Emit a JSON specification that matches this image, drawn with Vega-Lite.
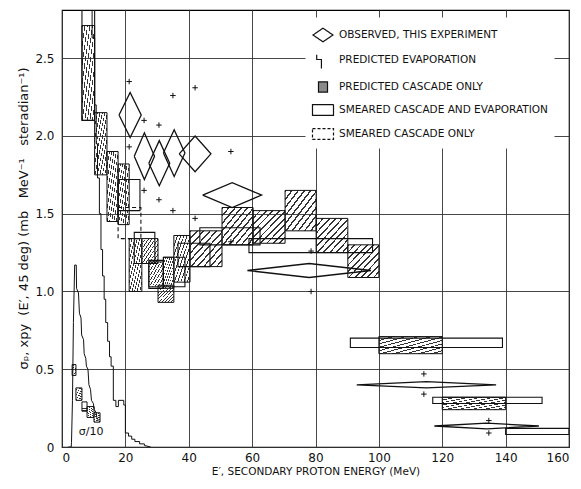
{
  "$schema": "https://vega.github.io/schema/vega-lite/v6.json",
  "width": 507,
  "height": 437,
  "autosize": {"type": "none"},
  "padding": {"left": 62, "top": 10, "right": 12, "bottom": 42},
  "background": "white",
  "config": {
    "view": {"stroke": "#000", "strokeWidth": 1.2},
    "font": "DejaVu Sans"
  },
  "datasets": {
    "hatch": [
      {"E": 6.3, "E2": 10.3, "s": 2.10, "s2": 2.71},
      {"E": 10.3, "E2": 14.2, "s": 1.75, "s2": 2.15},
      {"E": 14.2, "E2": 17.7, "s": 1.45, "s2": 1.90},
      {"E": 17.7, "E2": 21.2, "s": 1.43, "s2": 1.82},
      {"E": 21.2, "E2": 25.2, "s": 1.00, "s2": 1.34},
      {"E": 25.2, "E2": 30.3, "s": 1.18, "s2": 1.34},
      {"E": 27.4, "E2": 32.0, "s": 1.03, "s2": 1.19},
      {"E": 32.0, "E2": 35.3, "s": 1.02, "s2": 1.22},
      {"E": 30.3, "E2": 35.3, "s": 0.93, "s2": 1.04},
      {"E": 35.3, "E2": 40.4, "s": 1.06, "s2": 1.36},
      {"E": 40.4, "E2": 50.5, "s": 1.16, "s2": 1.39},
      {"E": 50.5, "E2": 60.3, "s": 1.30, "s2": 1.54},
      {"E": 60.3, "E2": 70.4, "s": 1.31, "s2": 1.52},
      {"E": 70.4, "E2": 80.2, "s": 1.39, "s2": 1.65},
      {"E": 80.2, "E2": 90.2, "s": 1.25, "s2": 1.47},
      {"E": 90.2, "E2": 100, "s": 1.09, "s2": 1.30},
      {"E": 100, "E2": 120, "s": 0.60, "s2": 0.71},
      {"E": 120, "E2": 140, "s": 0.24, "s2": 0.32},
      {"E": 3.2, "E2": 4.4, "s": 0.46, "s2": 0.53},
      {"E": 4.4, "E2": 6.3, "s": 0.30, "s2": 0.38},
      {"E": 6.3, "E2": 7.9, "s": 0.23, "s2": 0.29},
      {"E": 7.9, "E2": 10.1, "s": 0.19, "s2": 0.26},
      {"E": 10.1, "E2": 12.0, "s": 0.16, "s2": 0.22}
    ],
    "smeared": [
      {"E": 6.3, "E2": 10.3, "s": 2.10, "s2": 2.95},
      {"E": 17.7, "E2": 24.6, "s": 1.52, "s2": 1.72},
      {"E": 22.8, "E2": 29.3, "s": 1.18, "s2": 1.38},
      {"E": 27.4, "E2": 32.0, "s": 1.02, "s2": 1.20},
      {"E": 32.0, "E2": 38.8, "s": 1.03, "s2": 1.22},
      {"E": 36.6, "E2": 46.7, "s": 1.16, "s2": 1.31},
      {"E": 43.5, "E2": 62.5, "s": 1.30, "s2": 1.41},
      {"E": 59.0, "E2": 98.0, "s": 1.25, "s2": 1.34},
      {"E": 91.0, "E2": 139.0, "s": 0.64, "s2": 0.70},
      {"E": 117.0, "E2": 151.5, "s": 0.28, "s2": 0.32},
      {"E": 140.0, "E2": 160.0, "s": 0.08, "s2": 0.12}
    ],
    "cascadeOnly": [
      {"E": 17.7, "E2": 24.9, "s": 1.34, "s2": 1.54}
    ],
    "evap": [
      {"curve": "sigma", "i": 1, "E": 9.5, "s": 2.95},
      {"curve": "sigma", "i": 2, "E": 9.5, "s": 2.63},
      {"curve": "sigma", "i": 3, "E": 10.3, "s": 2.63},
      {"curve": "sigma", "i": 4, "E": 10.3, "s": 2.2},
      {"curve": "sigma", "i": 5, "E": 10.8, "s": 2.2},
      {"curve": "sigma", "i": 6, "E": 10.8, "s": 1.95},
      {"curve": "sigma", "i": 7, "E": 11.2, "s": 1.95},
      {"curve": "sigma", "i": 8, "E": 11.2, "s": 1.73},
      {"curve": "sigma", "i": 9, "E": 11.8, "s": 1.73},
      {"curve": "sigma", "i": 10, "E": 11.8, "s": 1.5},
      {"curve": "sigma", "i": 11, "E": 12.3, "s": 1.5},
      {"curve": "sigma", "i": 12, "E": 12.3, "s": 1.27},
      {"curve": "sigma", "i": 13, "E": 12.8, "s": 1.27},
      {"curve": "sigma", "i": 14, "E": 12.8, "s": 1.1},
      {"curve": "sigma", "i": 15, "E": 13.3, "s": 1.1},
      {"curve": "sigma", "i": 16, "E": 13.3, "s": 0.95},
      {"curve": "sigma", "i": 17, "E": 13.8, "s": 0.95},
      {"curve": "sigma", "i": 18, "E": 13.8, "s": 0.8},
      {"curve": "sigma", "i": 19, "E": 14.4, "s": 0.8},
      {"curve": "sigma", "i": 20, "E": 14.4, "s": 0.68},
      {"curve": "sigma", "i": 21, "E": 15.0, "s": 0.68},
      {"curve": "sigma", "i": 22, "E": 15.0, "s": 0.58},
      {"curve": "sigma", "i": 23, "E": 15.5, "s": 0.58},
      {"curve": "sigma", "i": 24, "E": 15.5, "s": 0.52},
      {"curve": "sigma", "i": 25, "E": 16.2, "s": 0.52},
      {"curve": "sigma", "i": 26, "E": 16.2, "s": 0.30},
      {"curve": "sigma", "i": 27, "E": 17.0, "s": 0.30},
      {"curve": "sigma", "i": 28, "E": 17.0, "s": 0.26},
      {"curve": "sigma", "i": 29, "E": 17.8, "s": 0.26},
      {"curve": "sigma", "i": 30, "E": 17.8, "s": 0.30},
      {"curve": "sigma", "i": 31, "E": 19.5, "s": 0.30},
      {"curve": "sigma", "i": 32, "E": 19.5, "s": 0.27},
      {"curve": "sigma", "i": 33, "E": 20.0, "s": 0.27},
      {"curve": "sigma", "i": 34, "E": 20.0, "s": 0.09},
      {"curve": "sigma", "i": 35, "E": 21.0, "s": 0.09},
      {"curve": "sigma", "i": 36, "E": 21.0, "s": 0.07},
      {"curve": "sigma", "i": 37, "E": 22.0, "s": 0.07},
      {"curve": "sigma", "i": 38, "E": 22.0, "s": 0.05},
      {"curve": "sigma", "i": 39, "E": 23.0, "s": 0.05},
      {"curve": "sigma", "i": 40, "E": 23.0, "s": 0.035},
      {"curve": "sigma", "i": 41, "E": 24.5, "s": 0.035},
      {"curve": "sigma", "i": 42, "E": 24.5, "s": 0.02},
      {"curve": "sigma", "i": 43, "E": 26.0, "s": 0.02},
      {"curve": "sigma", "i": 44, "E": 26.0, "s": 0.01},
      {"curve": "sigma", "i": 45, "E": 28.0, "s": 0.0},
      {"curve": "tenth", "i": 1, "E": 2.0, "s": 0.0},
      {"curve": "tenth", "i": 2, "E": 2.9, "s": 0.0},
      {"curve": "tenth", "i": 3, "E": 3.0, "s": 0.03},
      {"curve": "tenth", "i": 4, "E": 3.3, "s": 0.3},
      {"curve": "tenth", "i": 5, "E": 3.6, "s": 0.8},
      {"curve": "tenth", "i": 6, "E": 4.0, "s": 1.17},
      {"curve": "tenth", "i": 7, "E": 4.5, "s": 1.17},
      {"curve": "tenth", "i": 8, "E": 4.6, "s": 1.02},
      {"curve": "tenth", "i": 9, "E": 5.2, "s": 0.99},
      {"curve": "tenth", "i": 10, "E": 5.5, "s": 0.86},
      {"curve": "tenth", "i": 11, "E": 6.0, "s": 0.83},
      {"curve": "tenth", "i": 12, "E": 6.2, "s": 0.72},
      {"curve": "tenth", "i": 13, "E": 6.8, "s": 0.69},
      {"curve": "tenth", "i": 14, "E": 7.0, "s": 0.6},
      {"curve": "tenth", "i": 15, "E": 7.5, "s": 0.57},
      {"curve": "tenth", "i": 16, "E": 7.7, "s": 0.52},
      {"curve": "tenth", "i": 17, "E": 8.2, "s": 0.5},
      {"curve": "tenth", "i": 18, "E": 8.5, "s": 0.4},
      {"curve": "tenth", "i": 19, "E": 9.0, "s": 0.37},
      {"curve": "tenth", "i": 20, "E": 9.3, "s": 0.3},
      {"curve": "tenth", "i": 21, "E": 9.9, "s": 0.28},
      {"curve": "tenth", "i": 22, "E": 10.2, "s": 0.24},
      {"curve": "tenth", "i": 23, "E": 10.8, "s": 0.22},
      {"curve": "tenth", "i": 24, "E": 11.0, "s": 0.19},
      {"curve": "tenth", "i": 25, "E": 11.6, "s": 0.17}
    ],
    "diamonds": [
      {"id": 1, "i": 1, "E": 18.0, "s": 2.135}, {"id": 1, "i": 2, "E": 21.5, "s": 2.28}, {"id": 1, "i": 3, "E": 25.0, "s": 2.135}, {"id": 1, "i": 4, "E": 21.5, "s": 1.99}, {"id": 1, "i": 5, "E": 18.0, "s": 2.135},
      {"id": 2, "i": 1, "E": 22.8, "s": 1.87}, {"id": 2, "i": 2, "E": 26.0, "s": 2.02}, {"id": 2, "i": 3, "E": 29.2, "s": 1.87}, {"id": 2, "i": 4, "E": 26.0, "s": 1.72}, {"id": 2, "i": 5, "E": 22.8, "s": 1.87},
      {"id": 3, "i": 1, "E": 27.4, "s": 1.825}, {"id": 3, "i": 2, "E": 30.7, "s": 1.97}, {"id": 3, "i": 3, "E": 34.0, "s": 1.825}, {"id": 3, "i": 4, "E": 30.7, "s": 1.68}, {"id": 3, "i": 5, "E": 27.4, "s": 1.825},
      {"id": 4, "i": 1, "E": 32.0, "s": 1.89}, {"id": 4, "i": 2, "E": 35.4, "s": 2.04}, {"id": 4, "i": 3, "E": 38.8, "s": 1.89}, {"id": 4, "i": 4, "E": 35.4, "s": 1.74}, {"id": 4, "i": 5, "E": 32.0, "s": 1.89},
      {"id": 5, "i": 1, "E": 37.0, "s": 1.885}, {"id": 5, "i": 2, "E": 42.0, "s": 2.0}, {"id": 5, "i": 3, "E": 47.0, "s": 1.885}, {"id": 5, "i": 4, "E": 42.0, "s": 1.77}, {"id": 5, "i": 5, "E": 37.0, "s": 1.885},
      {"id": 6, "i": 1, "E": 44.4, "s": 1.62}, {"id": 6, "i": 2, "E": 53.7, "s": 1.70}, {"id": 6, "i": 3, "E": 63.0, "s": 1.62}, {"id": 6, "i": 4, "E": 53.7, "s": 1.54}, {"id": 6, "i": 5, "E": 44.4, "s": 1.62},
      {"id": 7, "i": 1, "E": 58.5, "s": 1.135}, {"id": 7, "i": 2, "E": 78.0, "s": 1.18}, {"id": 7, "i": 3, "E": 97.5, "s": 1.135}, {"id": 7, "i": 4, "E": 78.0, "s": 1.09}, {"id": 7, "i": 5, "E": 58.5, "s": 1.135},
      {"id": 8, "i": 1, "E": 93.0, "s": 0.40}, {"id": 8, "i": 2, "E": 115.0, "s": 0.42}, {"id": 8, "i": 3, "E": 137.0, "s": 0.40}, {"id": 8, "i": 4, "E": 115.0, "s": 0.38}, {"id": 8, "i": 5, "E": 93.0, "s": 0.40},
      {"id": 9, "i": 1, "E": 117.5, "s": 0.135}, {"id": 9, "i": 2, "E": 134.0, "s": 0.153}, {"id": 9, "i": 3, "E": 150.5, "s": 0.135}, {"id": 9, "i": 4, "E": 134.0, "s": 0.117}, {"id": 9, "i": 5, "E": 117.5, "s": 0.135}
    ],
    "plus": [
      {"E": 21.2, "s": 2.35}, {"E": 21.2, "s": 1.93},
      {"E": 25.9, "s": 2.10}, {"E": 25.9, "s": 1.65},
      {"E": 30.6, "s": 2.07}, {"E": 30.6, "s": 1.59},
      {"E": 35.0, "s": 2.26}, {"E": 35.0, "s": 1.52},
      {"E": 42.0, "s": 2.31}, {"E": 42.0, "s": 1.47},
      {"E": 53.3, "s": 1.90}, {"E": 53.3, "s": 1.32},
      {"E": 78.6, "s": 1.26}, {"E": 78.6, "s": 1.00},
      {"E": 114.2, "s": 0.47}, {"E": 114.2, "s": 0.34},
      {"E": 134.7, "s": 0.17}, {"E": 134.7, "s": 0.09}
    ],
    "notes": [
      {"E": 9.2, "s": 0.095, "label": "σ/10"}
    ]
  },
  "encoding": {
    "x": {
      "field": "E", "type": "quantitative",
      "scale": {"domain": [0, 160], "nice": false, "zero": false},
      "axis": {
        "values": [0, 20, 40, 60, 80, 100, 120, 140, 160],
        "ticks": false, "domain": false,
        "grid": true, "gridColor": "#333", "gridWidth": 0.9, "gridOpacity": 1,
        "labelFont": "DejaVu Sans", "labelFontSize": 12, "labelColor": "#111", "labelPadding": 5,
        "title": "E′, SECONDARY PROTON ENERGY (MeV)",
        "titleFont": "DejaVu Sans", "titleFontSize": 10.5, "titleFontWeight": "normal", "titleColor": "#111", "titlePadding": 3
      }
    },
    "y": {
      "field": "s", "type": "quantitative",
      "scale": {"domain": [0, 2.81], "nice": false, "zero": false},
      "axis": {
        "values": [0, 0.5, 1, 1.5, 2, 2.5],
        "labelExpr": "datum.value == 0 ? '0' : format(datum.value, '.1f')",
        "ticks": false, "domain": false,
        "grid": true, "gridColor": "#333", "gridWidth": 0.9, "gridOpacity": 1,
        "labelFont": "DejaVu Sans", "labelFontSize": 12, "labelColor": "#111", "labelPadding": 8,
        "title": "σₚ, xpy\u00a0 (E′, 45 deg) (mb\u00a0\u00a0 MeV⁻¹\u00a0\u00a0 steradian⁻¹)",
        "titleFont": "DejaVu Sans", "titleFontSize": 13, "titleFontWeight": "normal", "titleColor": "#111",
        "titleX": -39, "titleY": 208, "titleAngle": -90, "titleAlign": "center", "titleBaseline": "middle"
      }
    }
  },
  "layer": [
    {
      "data": {"name": "hatch"},
      "mark": {
        "type": "rect", "stroke": "#111", "strokeWidth": 1,
        "fill": {
          "gradient": "linear", "x1": 0, "y1": 0, "x2": 1, "y2": 1,
          "stops": [
            {"offset": 0, "color": "#333"}, {"offset": 0.028, "color": "#333"}, {"offset": 0.028, "color": "rgba(255,255,255,0)"}, {"offset": 0.1, "color": "rgba(255,255,255,0)"},
            {"offset": 0.1, "color": "#333"}, {"offset": 0.128, "color": "#333"}, {"offset": 0.128, "color": "rgba(255,255,255,0)"}, {"offset": 0.2, "color": "rgba(255,255,255,0)"},
            {"offset": 0.2, "color": "#333"}, {"offset": 0.228, "color": "#333"}, {"offset": 0.228, "color": "rgba(255,255,255,0)"}, {"offset": 0.3, "color": "rgba(255,255,255,0)"},
            {"offset": 0.3, "color": "#333"}, {"offset": 0.328, "color": "#333"}, {"offset": 0.328, "color": "rgba(255,255,255,0)"}, {"offset": 0.4, "color": "rgba(255,255,255,0)"},
            {"offset": 0.4, "color": "#333"}, {"offset": 0.428, "color": "#333"}, {"offset": 0.428, "color": "rgba(255,255,255,0)"}, {"offset": 0.5, "color": "rgba(255,255,255,0)"},
            {"offset": 0.5, "color": "#333"}, {"offset": 0.528, "color": "#333"}, {"offset": 0.528, "color": "rgba(255,255,255,0)"}, {"offset": 0.6, "color": "rgba(255,255,255,0)"},
            {"offset": 0.6, "color": "#333"}, {"offset": 0.628, "color": "#333"}, {"offset": 0.628, "color": "rgba(255,255,255,0)"}, {"offset": 0.7, "color": "rgba(255,255,255,0)"},
            {"offset": 0.7, "color": "#333"}, {"offset": 0.728, "color": "#333"}, {"offset": 0.728, "color": "rgba(255,255,255,0)"}, {"offset": 0.8, "color": "rgba(255,255,255,0)"},
            {"offset": 0.8, "color": "#333"}, {"offset": 0.828, "color": "#333"}, {"offset": 0.828, "color": "rgba(255,255,255,0)"}, {"offset": 0.9, "color": "rgba(255,255,255,0)"},
            {"offset": 0.9, "color": "#333"}, {"offset": 0.928, "color": "#333"}, {"offset": 0.928, "color": "rgba(255,255,255,0)"}, {"offset": 1, "color": "rgba(255,255,255,0)"}
          ]
        }
      },
      "encoding": {
        "x2": {"field": "E2"},
        "y2": {"field": "s2"}
      }
    },
    {
      "data": {"name": "smeared"},
      "mark": {"type": "rect", "fill": "transparent", "stroke": "#111", "strokeWidth": 1.1, "clip": true},
      "encoding": {
        "x2": {"field": "E2"},
        "y2": {"field": "s2"}
      }
    },
    {
      "data": {"name": "cascadeOnly"},
      "mark": {"type": "rect", "fill": "transparent", "stroke": "#111", "strokeWidth": 1.1, "strokeDash": [4, 3]},
      "encoding": {
        "x2": {"field": "E2"},
        "y2": {"field": "s2"}
      }
    },
    {
      "data": {"name": "evap"},
      "mark": {"type": "line", "color": "#111", "strokeWidth": 1, "clip": true},
      "encoding": {
        "detail": {"field": "curve"},
        "order": {"field": "i", "type": "quantitative"}
      }
    },
    {
      "data": {"name": "diamonds"},
      "mark": {"type": "line", "color": "#111", "strokeWidth": 1.3},
      "encoding": {
        "detail": {"field": "id"},
        "order": {"field": "i", "type": "quantitative"}
      }
    },
    {
      "data": {"name": "plus"},
      "mark": {"type": "point", "shape": "M-1,0H1M0,-1V1", "size": 30, "stroke": "#111", "strokeWidth": 1, "filled": false, "opacity": 1}
    },
    {
      "data": {"name": "notes"},
      "mark": {"type": "text", "font": "DejaVu Sans", "fontSize": 11, "color": "#111", "align": "center", "baseline": "middle"},
      "encoding": {"text": {"field": "label"}}
    },
    {
      "data": {"values": []},
      "mark": {"type": "point", "strokeWidth": 1.2, "opacity": 1, "filled": false},
      "encoding": {
        "shape": {
          "field": "kind", "type": "nominal",
          "scale": {
            "domain": ["OBSERVED, THIS EXPERIMENT", "PREDICTED EVAPORATION", "PREDICTED CASCADE ONLY", "SMEARED CASCADE AND EVAPORATION", "SMEARED CASCADE ONLY"],
            "range": ["M-0.95,0L0,-0.65L0.95,0L0,0.65Z", "M-0.6,-0.5V-0.05H-0.15V0.8", "M-0.43,-0.48H0.43V0.48H-0.43Z", "M-1,-0.52H1V0.52H-1Z", "M-1,-0.52H1V0.52H-1Z"]
          },
          "legend": {
            "title": null, "orient": "none", "legendX": 243.5, "legendY": 7.5,
            "padding": 6, "fillColor": "white", "strokeColor": null,
            "symbolSize": 441, "symbolStrokeWidth": 1.2,
            "labelFont": "DejaVu Sans", "labelFontSize": 10.5, "labelColor": "#111", "labelOffset": 4.5,
            "rowPadding": 4, "labelLimit": 400
          }
        },
        "stroke": {
          "field": "kind", "type": "nominal",
          "scale": {
            "domain": ["OBSERVED, THIS EXPERIMENT", "PREDICTED EVAPORATION", "PREDICTED CASCADE ONLY", "SMEARED CASCADE AND EVAPORATION", "SMEARED CASCADE ONLY"],
            "range": ["#111", "#111", "#111", "#111", "#111"]
          }
        },
        "strokeDash": {
          "field": "kind", "type": "nominal",
          "scale": {
            "domain": ["OBSERVED, THIS EXPERIMENT", "PREDICTED EVAPORATION", "PREDICTED CASCADE ONLY", "SMEARED CASCADE AND EVAPORATION", "SMEARED CASCADE ONLY"],
            "range": [[1, 0], [1, 0], [1, 0], [1, 0], [3, 2]]
          }
        },
        "fill": {
          "field": "kind", "type": "nominal",
          "scale": {
            "domain": ["OBSERVED, THIS EXPERIMENT", "PREDICTED EVAPORATION", "PREDICTED CASCADE ONLY", "SMEARED CASCADE AND EVAPORATION", "SMEARED CASCADE ONLY"],
            "range": ["transparent", "transparent", "#8a8a8a", "transparent", "transparent"]
          }
        }
      }
    }
  ]
}
